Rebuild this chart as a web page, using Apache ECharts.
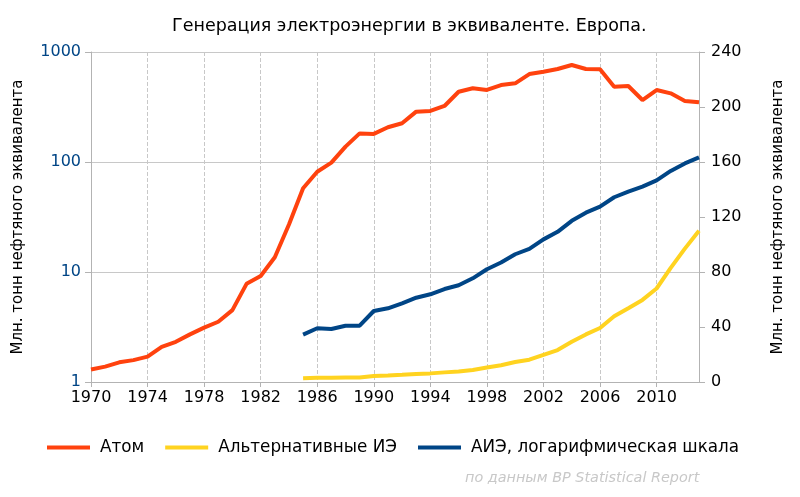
<!DOCTYPE html>
<html>
<head>
<meta charset="utf-8">
<script src="https://cdn.jsdelivr.net/npm/echarts@6/dist/echarts.min.js"></script>
<style>
  html, body { margin: 0; padding: 0; background: #fff; }
  #chart { width: 800px; height: 497px; }
</style>
</head>
<body>
<div id="chart"></div>
<script>
// годы
var years = [];
for (var y = 1970; y <= 2013; y++) years.push(String(y));

// Атом, млн т н.э. (левая логарифмическая шкала)
var atom = [1.30, 1.38, 1.51, 1.58, 1.70, 2.09, 2.32, 2.71, 3.12, 3.53,
    4.5, 7.8, 9.2, 13.6, 27, 57.7, 81.6, 98.6, 138, 182,
    180, 207, 225, 287, 291, 323, 435, 468, 452, 501,
    519, 630, 662, 700, 762, 700, 697, 484, 491, 366,
    451, 421, 359, 349];

// Альтернативные ИЭ (с 1985 года)
var aie = [null, null, null, null, null, null, null, null, null, null,
    null, null, null, null, null, 2.7, 3.08, 3.03, 3.25, 3.25,
    4.42, 4.68, 5.19, 5.84, 6.27, 7.0, 7.57, 8.76, 10.6, 12.2,
    14.5, 16.2, 19.8, 23.2, 29.2, 34.6, 39.3, 47.8, 53.7, 59.7,
    68, 83, 97, 110];

var fontName = 'DejaVu Sans';
var gridColor = '#b3b3b3';

var chart = echarts.init(document.getElementById('chart'));
var option = {
    animation: false,
    textStyle: { fontFamily: fontName },
    title: {
        text: 'Генерация электроэнергии в эквиваленте. Европа.',
        left: 167,
        top: 12,
        textStyle: { fontSize: 17.5, fontWeight: 'normal', color: '#000' }
    },
    legend: {
        bottom: 36,
        left: 42,
        itemWidth: 43,
        itemHeight: 4,
        itemGap: 21,
        icon: 'rect',
        textStyle: { fontSize: 16.8, color: '#000', padding: [0, 0, 0, 5] },
        data: ['Атом', 'Альтернативные ИЭ', 'АИЭ, логарифмическая шкала']
    },
    graphic: [{
        type: 'text',
        left: 465,
        top: 471,
        style: {
            text: 'по данным BP Statistical Report',
            font: 'italic 14.4px "DejaVu Sans"',
            fill: '#c8c8c8'
        }
    }],
    grid: { left: 91, right: 101, top: 52, bottom: 115 },
    xAxis: {
        type: 'category',
        boundaryGap: false,
        data: years,
        axisLine: { lineStyle: { color: gridColor } },
        axisTick: { interval: 3, length: 5, lineStyle: { color: gridColor } },
        axisLabel: { interval: 3, fontSize: 16, color: '#000', margin: 8 },
        splitLine: { show: true, interval: 3, lineStyle: { color: '#c8c8c8', type: 'dashed' } }
    },
    yAxis: [{
        type: 'log',
        logBase: 10,
        min: 1,
        max: 1000,
        name: 'Млн. тонн нефтяного эквивалента',
        nameLocation: 'middle',
        nameGap: 65,
        nameRotate: 90,
        nameTextStyle: { fontSize: 15, color: '#000' },
        axisLine: { show: true, lineStyle: { color: gridColor } },
        axisTick: { show: true, length: 6, lineStyle: { color: gridColor } },
        axisLabel: {
            fontSize: 16, color: '#004586', margin: 10,
            formatter: function (v) { return String(Math.round(v)); }
        },
        splitLine: { show: true, lineStyle: { color: '#c8c8c8' } },
        minorTick: { show: false }
    }, {
        type: 'value',
        min: 0,
        max: 240,
        interval: 40,
        position: 'right',
        name: 'Млн. тонн нефтяного эквивалента',
        nameLocation: 'middle',
        nameGap: 72,
        nameRotate: 90,
        nameTextStyle: { fontSize: 15, color: '#000' },
        axisLine: { show: true, lineStyle: { color: gridColor } },
        axisTick: { show: true, length: 6, lineStyle: { color: gridColor } },
        axisLabel: { fontSize: 16, color: '#000', margin: 12 },
        splitLine: { show: false }
    }],
    series: [{
        name: 'Атом',
        type: 'line',
        yAxisIndex: 0,
        data: atom,
        showSymbol: false,
        lineStyle: { width: 4, color: '#ff420e' },
        itemStyle: { color: '#ff420e' }
    }, {
        name: 'Альтернативные ИЭ',
        type: 'line',
        yAxisIndex: 1,
        data: aie,
        showSymbol: false,
        lineStyle: { width: 4, color: '#ffd320' },
        itemStyle: { color: '#ffd320' }
    }, {
        name: 'АИЭ, логарифмическая шкала',
        type: 'line',
        yAxisIndex: 0,
        data: aie,
        showSymbol: false,
        lineStyle: { width: 4, color: '#004586' },
        itemStyle: { color: '#004586' }
    }]
};
chart.setOption(option);
</script>
</body>
</html>
